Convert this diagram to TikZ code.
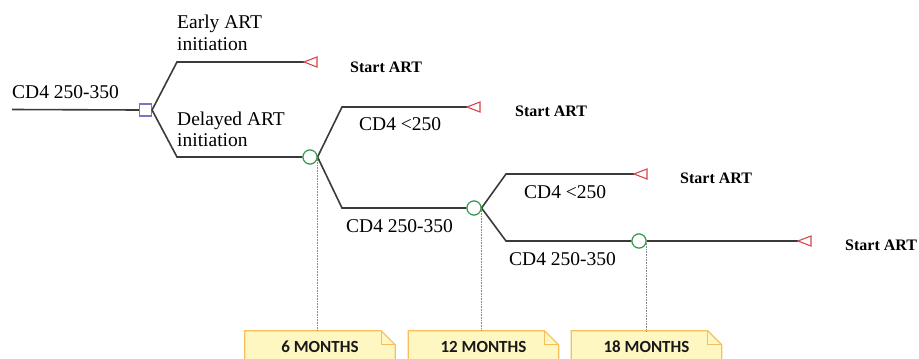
\documentclass[tikz,border=0pt]{standalone}
\usepackage{fontspec}
\setmainfont{Liberation Serif}
\newfontfamily\notefont{Carlito}
\usetikzlibrary{calc}
\definecolor{linec}{HTML}{3A3A3A}
\definecolor{sqc}{HTML}{7676C4}
\definecolor{circc}{HTML}{3A9A50}
\definecolor{tric}{HTML}{D8444C}
\definecolor{notefill}{HTML}{FFF7C2}
\definecolor{notedraw}{HTML}{F6BE5E}
\definecolor{dotc}{HTML}{8A8A8A}
\tikzset{
  branch/.style={draw=linec, line width=1.6pt},
  decsq/.style={rectangle, draw=sqc, fill=white, line width=1.1pt, minimum size=12pt, inner sep=0pt},
  chance/.style={circle, draw=circc, fill=white, line width=1.1pt, minimum size=14pt, inner sep=0pt},
  termtri/.style={draw=tric, fill=white, line width=1.1pt},
  lbl/.style={inner sep=0pt, anchor=base west, font=\fontsize{19.5}{22}\selectfont},
  endlbl/.style={inner sep=0pt, anchor=base west, font=\fontsize{16}{19}\selectfont\bfseries},
  notebox/.style={minimum width=150pt, minimum height=32pt, inner sep=0pt, font=\notefont\fontsize{17}{20}\selectfont\bfseries, text=black!90},
  notepath/.style={draw=notedraw, fill=notefill, line width=1.2pt},
  timeline/.style={draw=dotc, line width=1.1pt, dash pattern=on 0.8pt off 0.8pt}
}
\begin{document}
\begin{tikzpicture}[x=1pt, y=-1pt]
\useasboundingbox (0,0) rectangle (919,359);

% decision / chance / terminal points
\coordinate (r) at (12,109.5);
\node[decsq] (sq) at (145.5,110) {};
\coordinate (t1) at (304,62);
\node[chance] (c1) at (310,157) {};
\coordinate (t2) at (467,107);
\node[chance] (c2) at (474,208) {};
\coordinate (t3) at (634,174);
\node[chance] (c3) at (639,241) {};
\coordinate (t4) at (798,241);

% branches
\draw[branch] (r) -- (sq.west);
\draw[branch] (sq.east) -- (177,62) -- (t1);
\draw[branch] (sq.east) -- (177,157) -- (c1.west);
\draw[branch] (c1.east) -- (342,107) -- (t2);
\draw[branch] (c1.east) -- (342,208) -- (c2.west);
\draw[branch] (c2.east) -- (506,174) -- (t3);
\draw[branch] (c2.east) -- (506,241) -- (c3.west);
\draw[branch] (c3.east) -- (t4);

% notes
\node[notebox] (n1) at (320,347) {6 MONTHS\hspace{11pt}};
\node[notebox] (n2) at (483.5,347) {12 MONTHS\hspace{11pt}};
\node[notebox] (n3) at (646.5,347) {18 MONTHS\hspace{11pt}};
\foreach \n in {n1,n2,n3}{
  \draw[notepath] ([yshift=-10pt]\n.south west) -- (\n.north west) -- ([xshift=-14pt]\n.north east) -- ([yshift=-14pt]\n.north east) -- ([yshift=-10pt]\n.south east) -- cycle;
  \draw[notedraw, line width=1pt] ([xshift=-14pt]\n.north east) -- ([xshift=-14pt,yshift=-14pt]\n.north east) -- ([yshift=-14pt]\n.north east);
}
\node[notebox] at (n1) {6 MONTHS\hspace{11pt}};
\node[notebox] at (n2) {12 MONTHS\hspace{11pt}};
\node[notebox] at (n3) {18 MONTHS\hspace{11pt}};

% time lines
\draw[timeline] (c1.east) -- (c1.east |- n1.north);
\draw[timeline] (c2.east) -- (c2.east |- n2.north);
\draw[timeline] (c3.east) -- (c3.east |- n3.north);
% redraw chance nodes over dotted lines
\node[chance] at (c1) {};
\node[chance] at (c2) {};
\node[chance] at (c3) {};

% terminal triangles
\foreach \t in {t1,t2,t3,t4}{
  \draw[termtri] (\t) -- ++(13,-5) -- ++(0,10) -- cycle;
}

% labels
\node[lbl] (l0) at (12,98) {CD4 250-350};
\node[lbl] (l1a) at (177,28) {Early ART};
\node[lbl] (l1b) at (177,50) {initiation};
\node[lbl] (l2a) at (177,125) {Delayed ART};
\node[lbl] (l2b) at (177,146) {initiation};
\node[lbl] (l3) at (359,130) {CD4 <250};
\node[lbl] (l4) at (346,232) {CD4 250-350};
\node[lbl] (l5) at (524,198) {CD4 <250};
\node[lbl] (l6) at (509,265) {CD4 250-350};
\node[endlbl] (e1) at (350,72) {Start ART};
\node[endlbl] (e2) at (515,116) {Start ART};
\node[endlbl] (e3) at (680,183) {Start ART};
\node[endlbl] (e4) at (845,250) {Start ART};
\end{tikzpicture}
\end{document}
